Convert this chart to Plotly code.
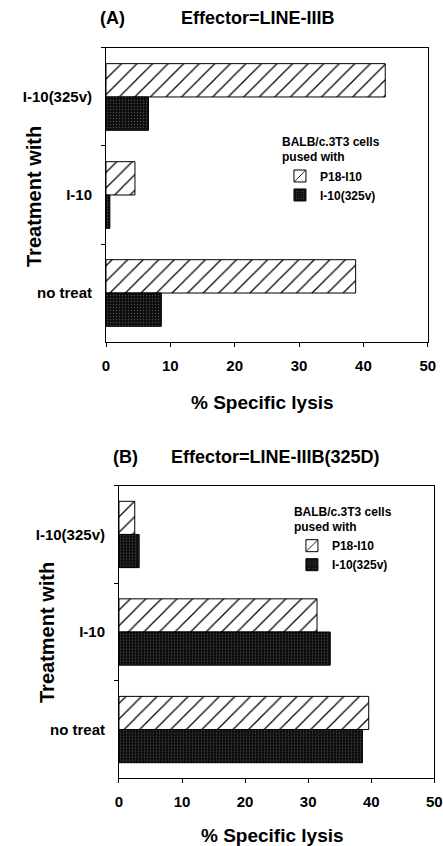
import plotly.graph_objects as go

categories = ["I-10(325v)", "I-10", "no treat"]
a_p18 = [43.4, 4.5, 38.8]
a_i10 = [6.6, 0.6, 8.6]
b_p18 = [2.5, 31.4, 39.6]
b_i10 = [3.2, 33.5, 38.6]
series_names = ["P18-I10", "I-10(325v)"]
x_ticks = [0, 10, 20, 30, 40, 50]

FONT = "Liberation Sans"

hatch = dict(shape="/", fgcolor="black", bgcolor="white", size=11, solidity=0.11, fillmode="replace")
dark = dict(shape=".", fgcolor="#4e4e4e", bgcolor="#0e0e0e", size=3, solidity=0.15, fillmode="replace")

fig = go.Figure()

def add(vals, name, pat, xa, ya, leg):
    fig.add_trace(go.Bar(
        y=categories, x=vals, orientation="h", name=name,
        marker=dict(color="white" if pat is hatch else "#0e0e0e", pattern=pat,
                    line=dict(color="black", width=1)),
        xaxis=xa, yaxis=ya, legend=leg,
    ))

add(a_p18, series_names[0], hatch, "x", "y", "legend")
add(a_i10, series_names[1], dark, "x", "y", "legend")
add(b_p18, series_names[0], hatch, "x2", "y2", "legend2")
add(b_i10, series_names[1], dark, "x2", "y2", "legend2")

tickfont = dict(family=FONT, size=15, color="black", weight="bold")
xcommon = dict(range=[0, 50], tickvals=x_ticks, showline=True, linecolor="black", linewidth=1,
               mirror=True, ticks="outside", ticklen=4, tickcolor="black", showgrid=False,
               zeroline=False, tickfont=tickfont, fixedrange=True, automargin=False,
               ticklabelstandoff=6)
ycommon = dict(type="category", categoryorder="array", categoryarray=categories,
               autorange="reversed", showline=True, linecolor="black", linewidth=1, mirror=True,
               ticks="outside", tickson="boundaries", ticklen=4, tickcolor="black",
               showgrid=False, tickfont=tickfont, fixedrange=True, automargin=False,
               ticklabelstandoff=10)

legfont = dict(family=FONT, size=12, color="black", weight="bold")

fig.update_layout(
    template="none",
    width=443, height=846,
    margin=dict(l=0, r=0, t=0, b=0),
    paper_bgcolor="white", plot_bgcolor="white",
    barmode="group", bargap=0.32, bargroupgap=0,
    xaxis=dict(domain=[0.2393, 0.9655], anchor="y", **xcommon),
    yaxis=dict(domain=[0.5957, 0.9433], anchor="x", **ycommon),
    xaxis2=dict(domain=[0.2686, 0.9804], anchor="y2", **xcommon),
    yaxis2=dict(domain=[0.0800, 0.4259], anchor="x2", **ycommon),
    legend=dict(x=0.632, y=0.846, xanchor="left", yanchor="top", bgcolor="rgba(0,0,0,0)",
                font=legfont, title=dict(text="BALB/c.3T3 cells<br>pused with", font=legfont),
                itemwidth=30, tracegroupgap=0, borderwidth=0),
    legend2=dict(x=0.659, y=0.409, xanchor="left", yanchor="top", bgcolor="rgba(0,0,0,0)",
                 font=legfont, title=dict(text="BALB/c.3T3 cells<br>pused with", font=legfont),
                 itemwidth=30, tracegroupgap=0, borderwidth=0),
    showlegend=True,
)

def ann(text, x, y, size, angle=0):
    fig.add_annotation(text=text, x=x / 443, y=1 - y / 846, xref="paper", yref="paper",
                       showarrow=False, xanchor="center", yanchor="middle", textangle=angle,
                       font=dict(family=FONT, size=size, color="black", weight="bold"))

ann("(A)", 113, 18, 18)
ann("Effector=LINE-IIIB", 258, 18, 18)
ann("% Specific lysis", 262, 402, 19)
ann("Treatment with", 34, 197, 20, -90)
ann("(B)", 125, 457, 18)
ann("Effector=LINE-IIIB(325D)", 275, 457, 18)
ann("% Specific lysis", 272, 835, 19)
ann("Treatment with", 47, 633, 20, -90)

fig.write_html("out.html", config={"responsive": False, "displayModeBar": False},
               post_script="document.body.style.margin='0';document.body.style.overflow='hidden';")
